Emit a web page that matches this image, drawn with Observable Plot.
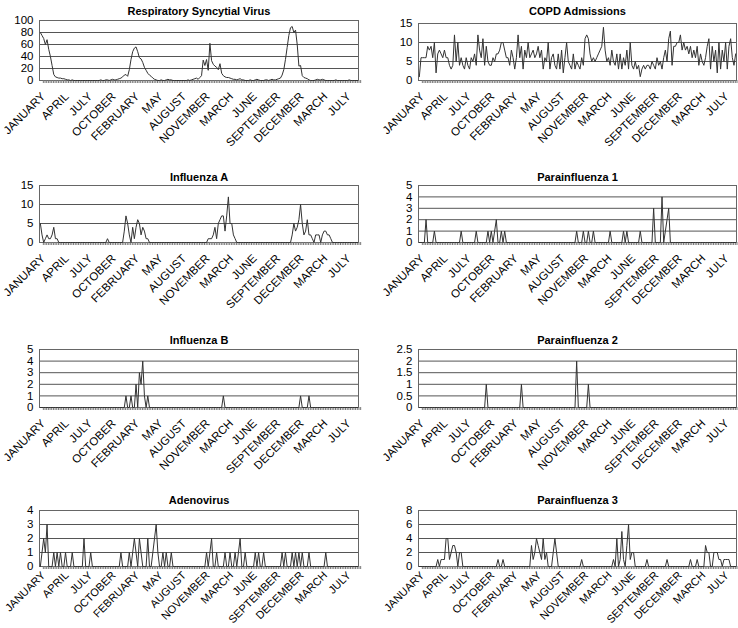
<!DOCTYPE html>
<html><head><meta charset="utf-8">
<script src="https://cdn.jsdelivr.net/npm/d3@7"></script>
<script src="https://cdn.jsdelivr.net/npm/@observablehq/plot@0.6"></script>
<style>
html,body{margin:0;padding:0;background:#fff;}
body{width:738px;height:628px;position:relative;overflow:hidden;font-family:"Liberation Sans",Arial,sans-serif;}
.panel{position:absolute;}
</style></head><body>
<div id="root"></div>
<script>
// x tick labels (every 14th weekly category)
const monthLabels = ["JANUARY","APRIL","JULY","OCTOBER","FEBRUARY","MAY","AUGUST","NOVEMBER","MARCH","JUNE","SEPTEMBER","DECEMBER","MARCH","JULY"];
const labelEvery = 14;

const rsv = [
 80,75,70,60,68,52,40,25,10,6,
 5,4,4,3,3,2,1,1,0,1,
 0,0,0,0,0,0,0,0,0,0,
 0,0,0,0,0,0,1,0,0,1,
 1,0,1,2,1,1,2,3,4,6,
 9,10,7,18,35,48,54,56,48,38,
 36,30,22,17,12,9,7,4,2,1,
 0,0,1,0,0,1,2,1,1,0,
 0,0,0,0,0,0,0,0,1,0,
 1,2,3,4,2,5,8,34,25,35,
 17,62,33,27,24,22,18,28,12,8,
 6,5,5,4,3,2,2,1,2,3,
 1,1,0,0,0,1,0,0,1,2,
 1,0,0,0,1,1,0,1,2,1,
 1,2,3,4,9,18,35,55,75,88,
 90,80,84,60,24,25,8,5,4,3,
 1,0,0,0,1,2,1,1,2,1,
 0,0,0,0,0,0,1,0,0,0,
 0,0,0,0,1,0,0,0,0,0];

const copd = [
 1,6,6,6,6,9,8,9,6,10,
 2,7,8,7,6,8,6,6,4,3,
 4,12,5,10,4,6,4,3,6,4,
 3,6,5,7,4,12,8,6,11,4,
 9,5,4,4,6,5,7,7,8,10,
 10,8,6,6,4,8,6,3,6,12,
 6,9,3,8,6,10,6,7,8,6,
 7,9,6,8,3,6,5,10,3,6,
 7,4,3,7,3,8,2,6,10,5,
 4,3,7,3,5,4,3,6,4,11,
 12,11,7,5,6,5,6,7,8,9,
 14,8,5,6,4,8,5,4,7,3,
 7,3,6,4,8,3,10,4,3,5,
 3,4,1,3,4,3,4,4,3,5,
 4,3,6,4,5,3,6,8,5,11,
 13,4,9,9,10,10,12,8,10,8,
 9,7,9,6,8,6,9,4,7,5,
 4,6,9,11,3,9,5,8,2,10,
 3,8,5,10,3,9,11,6,4,7];

const fluA = [
 5,2,0,1,2,1,1,2,4,1,
 1,0,0,0,0,0,0,0,0,0,
 0,0,0,0,0,0,0,0,0,0,
 0,0,0,0,0,0,0,0,0,0,
 1,0,0,0,0,0,0,0,0,0,
 3,7,5,2,0,4,1,4,6,5,
 2,4,3,1,1,0,0,0,0,0,
 0,0,0,0,0,0,0,0,0,0,
 0,0,0,0,0,0,0,0,0,0,
 0,0,0,0,0,0,0,0,0,0,
 1,1,1,2,4,1,5,6,7,7,
 3,7,12,5,5,2,1,0,0,0,
 0,0,0,0,0,0,0,0,0,0,
 0,0,0,0,0,0,0,0,0,0,
 0,0,0,0,0,0,0,0,0,0,
 2,5,3,4,6,10,5,2,3,6,
 2,2,1,0,2,2,2,0,2,3,
 3,2,2,1,0,0,0,0,0,0,
 0,0,0,0,0,0,0,0,0,0];

const para1 = [
 0,0,0,0,2,0,0,0,0,1,
 0,0,0,0,0,0,0,0,0,0,
 0,0,0,0,0,1,0,0,0,0,
 0,0,0,0,1,0,0,0,0,0,
 0,1,0,1,0,1,2,0,0,1,
 0,1,0,0,0,0,0,0,0,0,
 0,0,0,0,0,0,0,0,0,0,
 0,0,0,0,0,0,0,0,0,0,
 0,0,0,0,0,0,0,0,0,0,
 0,0,0,0,1,0,0,0,1,0,
 0,1,0,0,1,0,0,0,0,0,
 0,0,0,0,1,0,0,0,0,0,
 0,0,1,0,1,0,0,0,0,0,
 0,0,1,0,0,0,0,0,0,0,
 3,0,0,0,0,4,0,1,2,3,
 0,0,0,0,0,0,0,0,0,0,
 0,0,0,0,0,0,0,0,0,0,
 0,0,0,0,0,0,0,0,0,0,
 0,0,0,0,0,0,0,0,0,0];

const fluB = [
 0,0,0,0,0,0,0,0,0,0,
 0,0,0,0,0,0,0,0,0,0,
 0,0,0,0,0,0,0,0,0,0,
 0,0,0,0,0,0,0,0,0,0,
 0,0,0,0,0,0,0,0,0,0,
 0,1,0,0,1,0,0,2,0,3,
 2,4,1,0,1,0,0,0,0,0,
 0,0,0,0,0,0,0,0,0,0,
 0,0,0,0,0,0,0,0,0,0,
 0,0,0,0,0,0,0,0,0,0,
 0,0,0,0,0,0,0,0,0,1,
 0,0,0,0,0,0,0,0,0,0,
 0,0,0,0,0,0,0,0,0,0,
 0,0,0,0,0,0,0,0,0,0,
 0,0,0,0,0,0,0,0,0,0,
 0,0,0,0,0,1,0,0,0,0,
 1,0,0,0,0,0,0,0,0,0,
 0,0,0,0,0,0,0,0,0,0,
 0,0,0,0,0,0,0,0,0,0];

const para2 = [
 0,0,0,0,0,0,0,0,0,0,
 0,0,0,0,0,0,0,0,0,0,
 0,0,0,0,0,0,0,0,0,0,
 0,0,0,0,0,0,0,0,0,0,
 1,0,0,0,0,0,0,0,0,0,
 0,0,0,0,0,0,0,0,0,0,
 0,1,0,0,0,0,0,0,0,0,
 0,0,0,0,0,0,0,0,0,0,
 0,0,0,0,0,0,0,0,0,0,
 0,0,0,0,2,0,0,0,0,0,
 0,1,0,0,0,0,0,0,0,0,
 0,0,0,0,0,0,0,0,0,0,
 0,0,0,0,0,0,0,0,0,0,
 0,0,0,0,0,0,0,0,0,0,
 0,0,0,0,0,0,0,0,0,0,
 0,0,0,0,0,0,0,0,0,0,
 0,0,0,0,0,0,0,0,0,0,
 0,0,0,0,0,0,0,0,0,0,
 0,0,0,0,0,0,0,0,0,0];

const adeno = [
 0,1,2,1,3,0,0,0,1,0,
 1,0,1,0,0,1,0,0,0,1,
 0,0,0,0,0,0,2,0,0,0,
 1,0,0,0,0,0,0,0,0,0,
 0,0,0,0,0,0,0,0,1,0,
 0,0,0,1,0,1,2,1,0,2,
 1,0,0,0,2,0,0,1,2,3,
 1,0,0,1,0,1,0,0,1,0,
 0,0,0,0,0,0,0,0,0,0,
 0,0,0,0,0,0,0,0,0,1,
 0,1,2,0,0,1,0,0,0,0,
 1,0,0,1,0,0,1,0,1,2,
 0,0,1,0,0,0,0,0,1,0,
 1,0,0,1,0,0,0,0,0,0,
 0,0,0,0,1,0,1,0,0,0,
 1,0,1,0,1,0,1,0,0,0,
 1,0,0,0,0,0,0,0,0,0,
 1,0,0,0,0,0,0,0,0,0,
 0,0,0,0,0,0,0,0,0,0];

const para3 = [
 0,0,0,0,0,0,0,0,0,0,
 0,1,0,1,1,1,4,4,1,2,
 3,3,2,0,2,2,0,0,0,0,
 0,0,0,0,0,0,0,0,0,0,
 0,0,0,0,0,0,0,1,0,0,
 1,0,0,0,0,0,0,0,0,0,
 0,0,0,0,0,0,0,3,1,2,
 4,3,2,1,4,1,2,0,0,0,
 2,4,2,0,0,0,0,0,0,0,
 0,0,0,0,0,0,0,1,0,0,
 0,0,0,0,0,0,0,0,0,0,
 0,0,0,0,0,0,1,0,4,0,
 1,5,1,0,3,6,1,2,2,0,
 0,0,0,0,0,0,1,0,0,0,
 0,0,0,0,0,0,0,0,1,0,
 0,0,0,0,0,0,0,0,0,0,
 0,0,1,0,0,0,1,0,0,0,
 0,3,2,2,0,0,2,2,2,1,
 1,0,1,1,1,1,0,0,0,0];

const titles = ["Respiratory Syncytial Virus","COPD Admissions","Influenza A","Parainfluenza 1","Influenza B","Parainfluenza 2","Adenovirus","Parainfluenza 3"];
const seriesList = [rsv, copd, fluA, para1, fluB, para2, adeno, para3];
const yMaxes = [100, 15, 15, 5, 5, 2.5, 4, 8];
const ySteps = [20, 5, 5, 1, 1, 0.5, 1, 2];

// layout (pixels)
const cols = [{left: 0, ml: 39, mr: 11}, {left: 369, ml: 49, mr: 2}];
const rows = [
  {tops: [20, 23], bottom: 80, titleY: 7, pad: 11, fs: 11.5},
  {tops: [185, 185], bottom: 242, titleY: 173, pad: 11, fs: 11.5},
  {tops: [349, 349], bottom: 407, titleY: 336, pad: 11, fs: 11.5},
  {tops: [510, 510], bottom: 566, titleY: 496, pad: 4, fs: 11}
];
const MT = 26, MB = 72, W = 369;

const root = document.getElementById("root");
titles.forEach((title, k) => {
  const r = Math.floor(k / 2), c = k % 2;
  const col = cols[c], row = rows[r];
  const top = row.tops[c];
  const ph = row.bottom - top;
  const values = seriesList[k];
  const n = values.length;
  const yTicks = d3.range(0, yMaxes[k] + ySteps[k] / 2, ySteps[k]);
  const chart = Plot.plot({
    width: W,
    height: MT + ph + MB,
    marginTop: MT, marginBottom: MB, marginLeft: col.ml, marginRight: col.mr,
    style: {background: "transparent", fontFamily: "'Liberation Sans', Arial, sans-serif", fontSize: "11px", color: "#000", overflow: "visible"},
    x: {domain: [-0.5, n - 0.5]},
    y: {domain: [0, yMaxes[k]]},
    marks: [
      Plot.ruleY(yTicks, {stroke: "#555", strokeWidth: 1}),
      Plot.frame({stroke: "#666"}),
      Plot.axisY({ticks: yTicks, tickSize: 0, tickPadding: 6, label: null, fontSize: 11.5, tickFormat: d => String(+d.toFixed(2))}),
      Plot.axisX({ticks: d3.range(n), tickSize: 3, tickPadding: row.pad, tickRotate: -45, stroke: "#777", label: null, fontSize: row.fs, dx: 3,
        tickFormat: i => (i % labelEvery === 0 ? (monthLabels[i / labelEvery] || "") : "")}),
      Plot.lineY(values, {x: (d, i) => i, y: d => d, stroke: "#333", strokeWidth: 1}),
      Plot.text([title], {frameAnchor: "top", dy: row.titleY - top, fontWeight: "bold", fontSize: 11, fill: "#000"})
    ]
  });
  const div = document.createElement("div");
  div.className = "panel";
  div.style.left = col.left + "px";
  div.style.top = (top - MT) + "px";
  div.appendChild(chart);
  root.appendChild(div);
});
</script>
</body></html>
